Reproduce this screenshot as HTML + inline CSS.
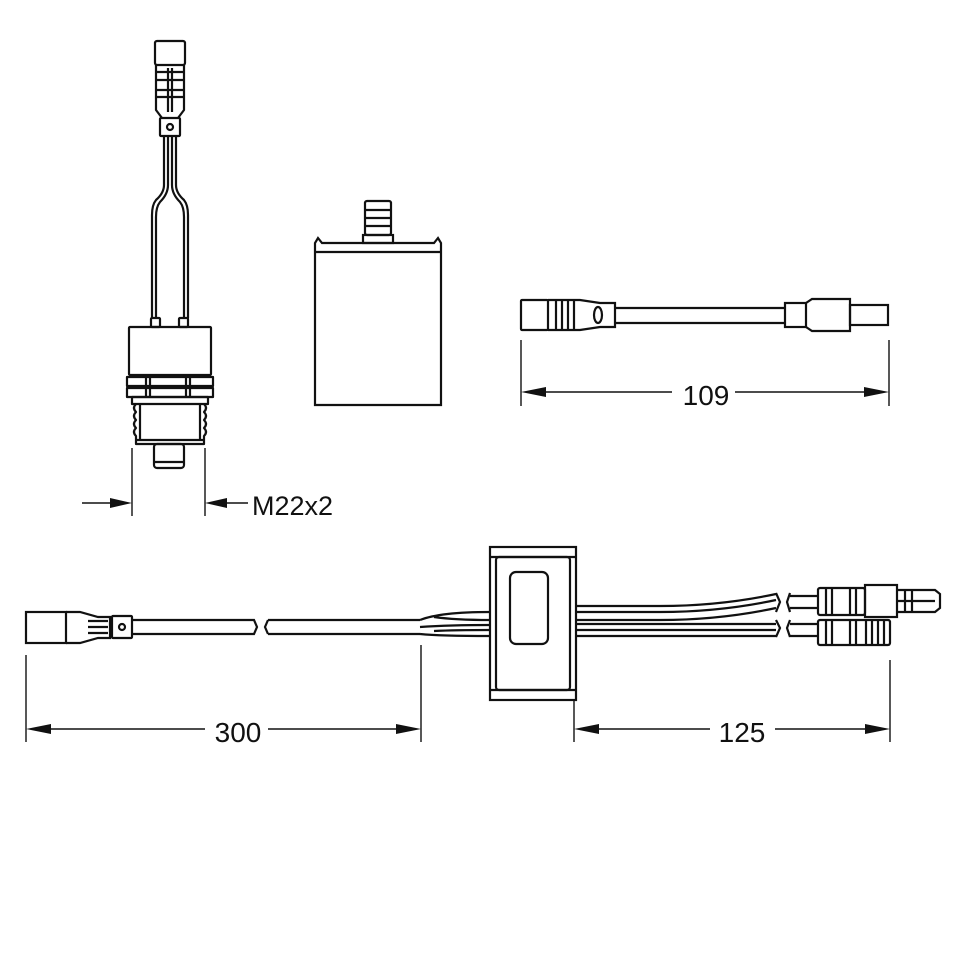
<!DOCTYPE html>
<html><head><meta charset="utf-8"><style>html,body{margin:0;padding:0;background:#fff}svg{display:block}</style></head>
<body>
<svg width="960" height="960" viewBox="0 0 960 960" xmlns="http://www.w3.org/2000/svg" font-family="Liberation Sans, sans-serif">
<rect width="960" height="960" fill="#fff"/>
<g fill="none" stroke="#111" stroke-width="2.2" stroke-linejoin="round">
<rect x="155" y="41" width="30" height="24" rx="2"/>
<path d="M156 65 L156 110 L162 118 M184 65 L184 110 L178 118"/>
<path d="M156 72 H184 M156 80 H184 M156 90 H184 M156 97 H184"/>
<path d="M168 68 V112 M172 68 V112"/>
<rect x="160" y="118" width="20" height="18" rx="1"/>
<circle cx="170" cy="127" r="3"/>
<path d="M164 136 V185 Q164 193 156 200 Q152 205 152 215 V318"/>
<path d="M168 136 V185 Q168 194 160 202 Q156 207 156 217 V318"/>
<path d="M176 136 V185 Q176 193 184 200 Q188 205 188 215 V318"/>
<path d="M172 136 V185 Q172 194 180 202 Q184 207 184 217 V318"/>
<rect x="151" y="318" width="9" height="9" rx="1"/>
<rect x="179" y="318" width="9" height="9" rx="1"/>
<rect x="129" y="327" width="82" height="48" rx="1"/>
<rect x="127" y="377" width="86" height="9"/>
<rect x="127" y="388" width="86" height="9"/>
<path d="M146 377 V397 M150 377 V397 M186 377 V397 M190 377 V397"/>
<rect x="132" y="397" width="76" height="7"/>
<path d="M136 404 Q132 408 136 412 Q132 416 136 420 Q132 424 136 428 Q132 432 136 436 V444 H204 V436 Q208 432 204 428 Q208 424 204 420 Q208 416 204 412 Q208 408 204 404"/>
<path d="M140 404 V440 M200 404 V440 M136 440 H204"/>
<rect x="154" y="444" width="30" height="24" rx="3"/>
<path d="M154 462 H184"/>
</g>
<g stroke="#111" stroke-width="1.4" fill="none">
<path d="M132 448 V516 M205 448 V516"/>
<path d="M82 503 H112 M226 503 H248"/>
</g>
<g fill="#111">
<path d="M132 503 L110 498 L110 508 Z"/>
<path d="M205 503 L227 498 L227 508 Z"/>
</g>
<text x="252" y="515" font-size="27" fill="#111">M22x2</text>

<g fill="none" stroke="#111" stroke-width="2.2">
<rect x="365" y="201" width="26" height="34" rx="2"/>
<path d="M365 210 H391 M365 218 H391 M365 226 H391"/>
<rect x="363" y="235" width="30" height="8"/>
<path d="M315 405 V243 L318 238 L322 243 H434 L438 238 L441 243 V405 Z"/>
<path d="M315 252 H441"/>
</g>

<g fill="none" stroke="#111" stroke-width="2.2">
<rect x="521" y="300" width="27" height="30" rx="1"/>
<path d="M548 300 H580 L600 303 H615 V327 H600 L580 330 H548"/>
<path d="M556 300 V330 M562 300 V330 M568 300 V330 M574 300 V330"/>
<ellipse cx="598" cy="315" rx="4" ry="8"/>
<path d="M615 308 H785 M615 323 H785"/>
<rect x="785" y="303" width="21" height="24"/>
<path d="M806 303 L812 299 H850 V331 H812 L806 327"/>
<rect x="850" y="305" width="38" height="20"/>
</g>
<g stroke="#111" stroke-width="1.4" fill="none">
<path d="M521 340 V406 M889 340 V406"/>
<path d="M545 392 H672 M735 392 H866"/>
</g>
<g fill="#111">
<path d="M521 392 L546 387 L546 397 Z"/>
<path d="M889 392 L864 387 L864 397 Z"/>
</g>
<text x="706" y="405" font-size="28" fill="#111" text-anchor="middle">109</text>

<g fill="none" stroke="#111" stroke-width="2.2">
<rect x="26" y="612" width="40" height="31"/>
<path d="M66 612 H80 L98 617 H110 V638 H98 L80 643 H66"/>
<path d="M88 621 H108 M88 627 H108 M88 633 H108"/>
<rect x="112" y="616" width="20" height="22" rx="1"/>
<circle cx="122" cy="627" r="3"/>
<path d="M132 620 H254 L257 627 L254 634 H132"/>
<path d="M268 620 H420 M268 634 H420 M268 620 L265 627 L268 634"/>
<path d="M420 620 Q440 612 490 612 M420 627 Q450 625 490 625 M420 634 Q440 636 490 636 M434 617 Q455 620 490 620 M434 631 Q455 630 490 630"/>
<rect x="490" y="547" width="86" height="153"/>
<path d="M490 557 H576 M490 690 H576"/>
<rect x="496" y="557" width="74" height="133" rx="3"/>
<rect x="510" y="572" width="38" height="72" rx="6"/>
<path d="M576 606 H660 Q720 606 776 594 M576 620 H660 Q720 620 776 608 M576 612 H660 Q720 612 776 600"/>
<path d="M576 624 H776 M576 636 H776 M576 630 H776"/>
<path d="M776 593 L780 602 L776 612 M776 620 L780 628 L776 637"/>
<path d="M790 593 L787 602 L790 612 M790 620 L787 628 L790 637"/>
<path d="M790 596 H818 M790 608 H818 M790 624 H818 M790 636 H818"/>
<rect x="818" y="588" width="47" height="27" rx="2"/>
<path d="M826 588 V615 M832 588 V615 M850 588 V615 M856 588 V615"/>
<rect x="865" y="585" width="32" height="32"/>
<path d="M897 590 H935 L940 594 V608 L935 612 H897 M897 601 H935 M905 590 V612 M912 590 V612"/>
<rect x="818" y="620" width="72" height="25" rx="2"/>
<path d="M826 620 V645 M832 620 V645 M850 620 V645 M856 620 V645 M866 620 V645 M872 620 V645 M878 620 V645 M884 620 V645"/>
</g>
<g stroke="#111" stroke-width="1.4" fill="none">
<path d="M26 655 V742 M421 645 V742 M574 700 V742 M890 660 V742"/>
<path d="M50 729 H205 M268 729 H398 M597 729 H710 M775 729 H867"/>
</g>
<g fill="#111">
<path d="M26 729 L51 724 L51 734 Z"/>
<path d="M421 729 L396 724 L396 734 Z"/>
<path d="M574 729 L599 724 L599 734 Z"/>
<path d="M890 729 L865 724 L865 734 Z"/>
</g>
<text x="238" y="742" font-size="28" fill="#111" text-anchor="middle">300</text>
<text x="742" y="742" font-size="28" fill="#111" text-anchor="middle">125</text>
</svg>
</body></html>
